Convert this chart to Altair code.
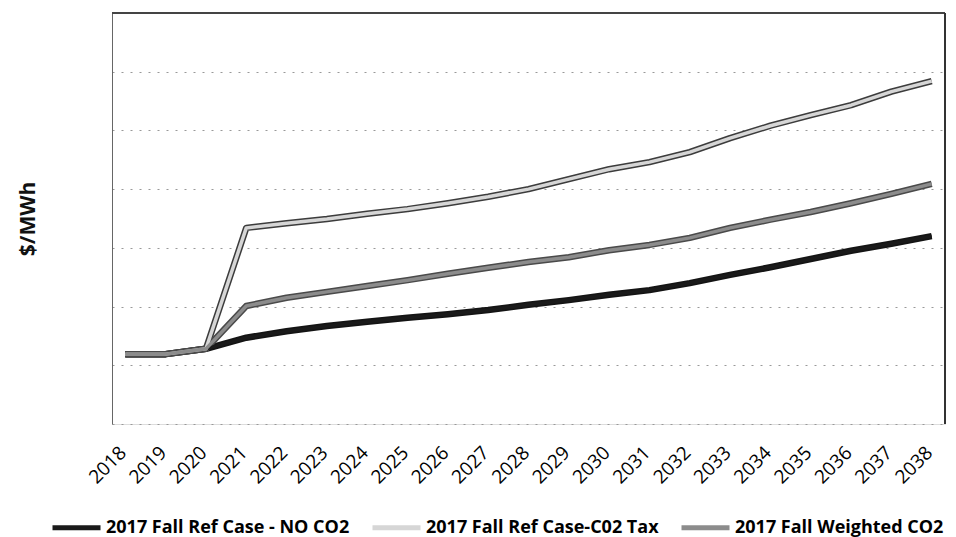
import altair as alt
import pandas as pd

years = [str(y) for y in range(2018, 2039)]
series_names = ["2017 Fall Ref Case - NO CO2", "2017 Fall Ref Case-C02 Tax", "2017 Fall Weighted CO2"]
no_co2 = [11.9, 11.9, 12.8, 14.7, 15.8, 16.7, 17.4, 18.1, 18.7, 19.4, 20.3, 21.1, 22.0, 22.8, 24.0, 25.4, 26.7, 28.1, 29.5, 30.7, 32.0]
co2_tax = [11.9, 11.9, 12.8, 33.4, 34.2, 34.9, 35.8, 36.6, 37.6, 38.7, 40.0, 41.7, 43.4, 44.6, 46.3, 48.7, 50.8, 52.6, 54.3, 56.6, 58.4]
weighted = [11.9, 11.9, 12.8, 20.1, 21.5, 22.5, 23.5, 24.5, 25.6, 26.6, 27.6, 28.4, 29.6, 30.5, 31.7, 33.4, 34.8, 36.1, 37.6, 39.2, 40.9]

rows = []
for name, vals in zip(series_names, [no_co2, co2_tax, weighted]):
    for yr, v in zip(years, vals):
        rows.append({"Year": yr, "Series": name, "Value": v})
df = pd.DataFrame(rows)

FONT = "Open Sans"

x_enc = alt.X("Year:O", scale=alt.Scale(type="point", padding=0.33),
              axis=alt.Axis(title=None, labelAngle=-45, labelFontSize=19, labelFont=FONT,
                            labelColor="#000", ticks=False, domain=False, grid=False,
                            labelPadding=19, labelOffset=-9))
y_enc = alt.Y("Value:Q", scale=alt.Scale(domain=[0, 70], nice=False),
              axis=alt.Axis(title="$/MWh", titleFont=FONT, titleFontSize=21, titleFontWeight="bold",
                            titleColor="#111", titlePadding=74, labels=False, ticks=False,
                            values=[0, 10, 20, 30, 40, 50, 60], grid=True, gridDash=[2, 7],
                            gridColor="#999", gridWidth=1, domain=True, domainColor="#666"))

outline = alt.Chart(df).mark_line(strokeWidth=6.5, strokeJoin="round").encode(
    x=x_enc, y=y_enc,
    color=alt.Color("Series:N", scale=alt.Scale(domain=series_names, range=["#141414", "#3c3c3c", "#4a4a4a"]),
                    legend=None),
    detail="Series:N",
)

inner = alt.Chart(df).mark_line(strokeWidth=3.5, strokeJoin="round").encode(
    x=x_enc, y=y_enc,
    color=alt.Color("Series:N", scale=alt.Scale(domain=series_names, range=["#1a1a1a", "#d6d6d6", "#8c8c8c"]),
                    legend=alt.Legend(title=None, orient="none", direction="horizontal",
                                      legendX=-62, legendY=488, symbolType="stroke", symbolSize=2304,
                                      symbolStrokeWidth=5, labelFont=FONT, labelFontSize=18,
                                      labelFontWeight="bold", labelColor="#000", columnPadding=12,
                                      labelOffset=3, labelLimit=400)),
)

top_line = alt.Chart(df).mark_rule(color="#444", strokeWidth=1.2).encode(
    y=alt.value(0), x=alt.value(0), x2=alt.value(833))
right_line = alt.Chart(df).mark_rule(color="#333", strokeWidth=1.5).encode(
    x=alt.value(833), y=alt.value(0), y2=alt.value(411))

chart = alt.layer(top_line, right_line, outline, inner).resolve_scale(color="independent").properties(
    width=833, height=411,
    autosize=alt.AutoSizeParams(type="none"),
    padding={"left": 104, "top": 5, "right": 3, "bottom": 113},
).configure_view(stroke=None).configure(background="white")

chart.save("out.html", embed_options={"renderer": "svg", "actions": False})
